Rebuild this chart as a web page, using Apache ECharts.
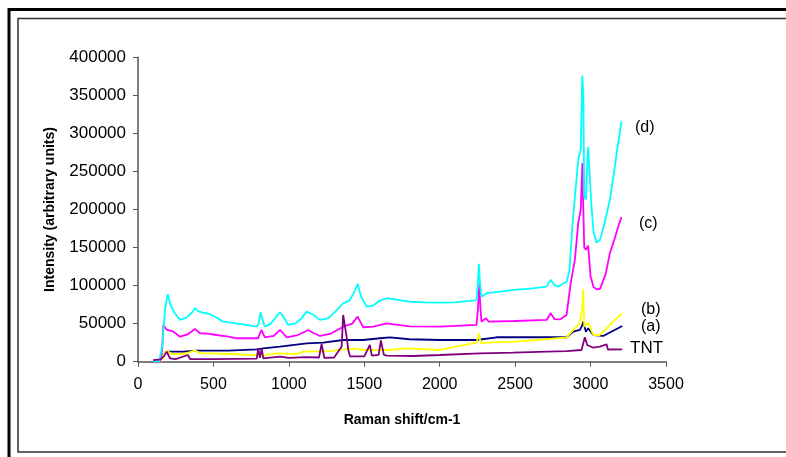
<!DOCTYPE html>
<html><head><meta charset="utf-8">
<script src="https://cdn.jsdelivr.net/npm/echarts@6/dist/echarts.min.js"></script>
<style>html,body{margin:0;padding:0;background:#fff}#c{width:786px;height:457px}</style>
</head><body><div id="c"></div>
<script>
// Raman shift (cm-1) and intensity values per spectrum
const dX = [100,140,160,180,197,215,240,278,320,360,378,400,431,470,520,560,610,700,787,800,813,825,842,880,920,941,960,996,1040,1080,1118,1160,1206,1260,1320,1360,1400,1430,1456,1480,1516,1560,1600,1648,1700,1800,1900,2001,2100,2200,2244,2252,2260,2268,2277,2311,2400,2488,2600,2709,2735,2760,2785,2841,2860,2880,2900,2918,2935,2945,2952,2958,2969,2978,2984,2995,3006,3020,3040,3062,3090,3128,3160,3183,3205];
const dY = [0,0,20000,70000,88700,75000,65000,55000,58000,65000,70500,66000,64500,63000,58000,53000,51300,49000,46000,50000,65000,55000,46000,50000,60000,65000,60000,48300,50000,56000,65800,62000,55000,57000,68000,76800,80000,90000,102000,85000,72400,74000,80000,83400,82000,79000,78000,77600,78000,80000,81000,100000,128500,100000,85500,90000,92000,94300,96000,98700,107500,101000,98700,105000,120000,180000,225000,265000,280000,376000,350000,217000,212800,260000,282000,280000,204000,170000,156600,160000,180000,212800,255000,287400,315800];

const cX = [100,145,160,168,190,234,278,330,378,411,460,521,600,654,797,810,820,830,842,900,941,960,985,1060,1129,1160,1206,1280,1360,1420,1456,1475,1493,1560,1648,1800,2001,2244,2254,2262,2270,2277,2306,2325,2500,2709,2735,2760,2797,2841,2868,2896,2918,2935,2946,2952,2958,2969,2984,3000,3020,3040,3062,3100,3128,3160,3183,3205];
const cY = [0,0,15000,48300,42000,39500,32900,36000,43000,37400,37000,35100,33000,30800,30800,38000,41700,36000,32100,34000,41700,38000,32100,35000,41700,38000,33800,37000,46000,50000,59200,52000,45300,46000,50500,46500,46000,48300,70000,103000,70000,52600,57100,52600,53500,54900,63700,56000,55500,61400,103000,133800,182000,200000,261000,200000,150000,147000,152600,111800,98000,95300,95300,115000,142600,162000,177600,190000];

const bX = [100,150,165,190,223,300,378,411,610,831,919,1052,1096,1272,1360,1449,1493,1670,1781,2001,2244,2254,2260,2268,2277,2311,2488,2709,2841,2885,2929,2945,2951,2958,2984,3018,3062,3150,3210];
const bY = [0,0,8000,14500,10100,10100,14500,11200,10100,8400,11000,10100,13200,14000,16300,17100,15400,15400,17600,15400,25000,32000,37400,28000,24200,25000,26300,29500,32100,41700,50500,70000,95300,46000,51300,35100,35100,52600,63700];

const aX = [100,150,165,190,300,389,600,787,831,941,1118,1228,1360,1493,1604,1670,1800,2001,2244,2377,2709,2841,2885,2929,2945,2951,2969,2984,3018,3084,3210];
const aY = [0,0,9000,13200,13200,14500,14500,16300,17600,19700,24200,25000,28500,28500,30800,32100,29500,28500,28500,32100,32100,32100,39500,41700,48000,52600,39500,43900,35100,33800,47000];

const tX = [100,150,175,190,212,250,331,345,500,787,797,808,820,830,941,1000,1107,1200,1217,1235,1300,1350,1360,1371,1385,1394,1405,1500,1537,1550,1595,1610,1630,1650,1825,2001,2266,2488,2709,2841,2940,2962,2978,3018,3062,3106,3115,3210];
const tY = [2200,3000,8000,13200,4500,3500,8800,3500,3500,4000,17600,5000,17600,4500,6600,5000,6000,5500,23300,5000,5500,20000,61400,59000,30000,15400,7000,7000,22000,8000,9000,28000,9000,7900,7500,8800,11000,11800,13200,14000,15400,32100,22000,18400,19700,22900,16000,16300];

const xTicks = [0,500,1000,1500,2000,2500,3000,3500];
const yTicks = [0,50000,100000,150000,200000,250000,300000,350000,400000];
const seriesNames = ['(a)','(b)','(c)','(d)','TNT'];

function pairs(xs, ys){ return xs.map((x,i)=>[x, ys[i]]); }

const chart = echarts.init(document.getElementById('c'), null, {renderer:'canvas'});
const FONT = 'Liberation Sans, Arial, sans-serif';
function line(name, xs, ys, color){
  return {name, type:'line', data:pairs(xs,ys), showSymbol:false, symbol:'none',
    lineStyle:{color, width:1.8}, itemStyle:{color}, animation:false, z:2};
}
chart.setOption({
  animation:false,
  backgroundColor:'#fff',
  grid:{left:138, right:120, top:57.3, bottom:95.3, containLabel:false},
  xAxis:{type:'value', min:xTicks[0], max:xTicks[xTicks.length-1], interval:500,
    name:'Raman shift/cm-1', nameLocation:'middle', nameGap:51,
    nameTextStyle:{fontFamily:FONT, fontWeight:'bold', fontSize:14, color:'#000'},
    axisLine:{show:true, lineStyle:{color:'#555', width:1.5}},
    axisTick:{show:true, inside:false, length:5, lineStyle:{color:'#555'}},
    axisLabel:{fontFamily:FONT, fontSize:16, color:'#000', margin:15, formatter:v=>String(v)},
    splitLine:{show:false}},
  yAxis:{type:'value', min:yTicks[0], max:yTicks[yTicks.length-1], interval:50000,
    name:'Intensity (arbitrary units)', nameLocation:'middle', nameGap:81, nameRotate:90,
    nameTextStyle:{fontFamily:FONT, fontWeight:'bold', fontSize:14, color:'#000'},
    axisLine:{show:true, lineStyle:{color:'#555', width:1.5}},
    axisTick:{show:true, inside:false, length:5, lineStyle:{color:'#555'}},
    axisLabel:{fontFamily:FONT, fontSize:17, color:'#000', margin:12, formatter:v=>String(v)},
    splitLine:{show:false}},
  series:[
    line(seriesNames[0], aX, aY, '#000080'),
    line(seriesNames[1], bX, bY, '#FFFF00'),
    line(seriesNames[2], cX, cY, '#FF00FF'),
    line(seriesNames[3], dX, dY, '#00FFFF'),
    line(seriesNames[4], tX, tY, '#800080')
  ],
  graphic:[
    {type:'rect', shape:{x:9, y:9.5, width:900, height:600}, style:{fill:'none', stroke:'#000', lineWidth:3}, silent:true},
    {type:'rect', shape:{x:18, y:18.5, width:900, height:433.5}, style:{fill:'none', stroke:'#333', lineWidth:1.5}, silent:true},
    {type:'text', x:635, y:128, style:{text:'(d)', font:'16px '+FONT, fill:'#000', textVerticalAlign:'middle'}},
    {type:'text', x:639, y:224, style:{text:'(c)', font:'16px '+FONT, fill:'#000', textVerticalAlign:'middle'}},
    {type:'text', x:641, y:310, style:{text:'(b)', font:'16px '+FONT, fill:'#000', textVerticalAlign:'middle'}},
    {type:'text', x:641, y:327, style:{text:'(a)', font:'16px '+FONT, fill:'#000', textVerticalAlign:'middle'}},
    {type:'text', x:630, y:348, style:{text:'TNT', font:'17px '+FONT, fill:'#000', textVerticalAlign:'middle'}}
  ]
});
</script></body></html>
